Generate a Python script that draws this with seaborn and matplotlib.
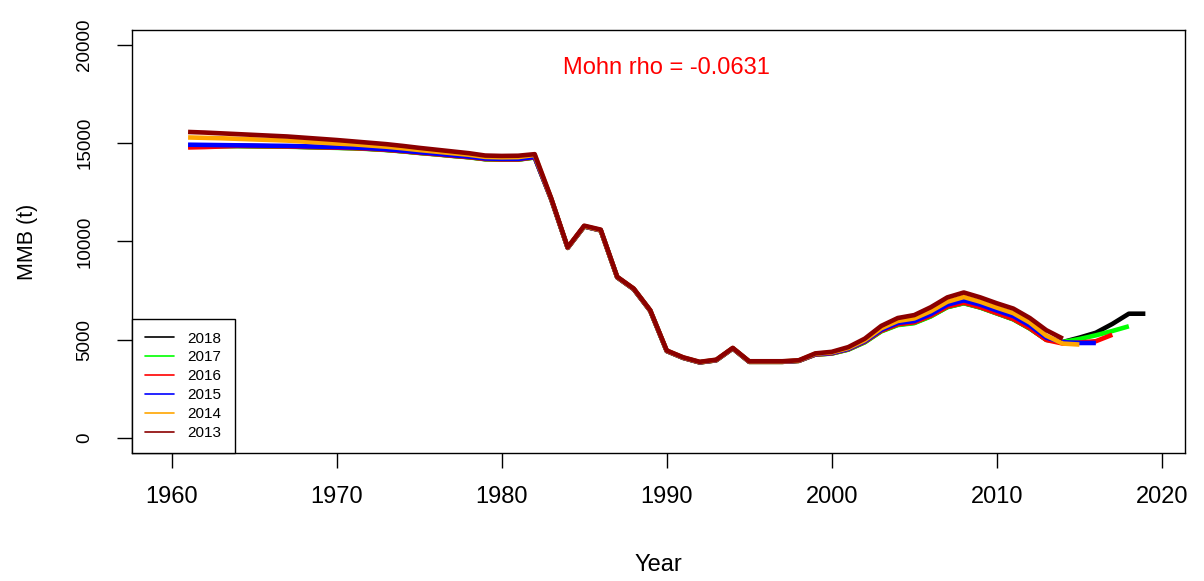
import matplotlib
matplotlib.use("Agg")
import matplotlib.pyplot as plt
from matplotlib.lines import Line2D
import numpy as np
import pandas as pd
import seaborn as sns

# Retrospective MMB runs, one per assessment (terminal year) ------------------
peel_labels = ["2018", "2017", "2016", "2015", "2014", "2013"]
peel_colors = ["#000000", "#00FF00", "#FF0000", "#0000FF", "#FFA500", "#8B0000"]

mmb_2018 = [14860, 14860, 14860, 14860, 14850, 14840, 14830, 14810, 14790, 14770,
            14750, 14710, 14660, 14590, 14510, 14440, 14360, 14290, 14190, 14170,
            14170, 14280, 12150, 9670, 10760, 10560, 8170, 7570, 6470, 4420,
            4070, 3840, 3950, 4550, 3870, 3870, 3870, 3920, 4240, 4300,
            4500, 4880, 5440, 5760, 5860, 6200, 6660, 6860, 6640, 6340,
            6040, 5570, 5000, 4880, 5100, 5350, 5800, 6320, 6320]
mmb_2017 = [14850, 14850, 14850, 14850, 14840, 14830, 14820, 14800, 14780, 14760,
            14740, 14700, 14650, 14580, 14500, 14430, 14350, 14280, 14180, 14160,
            14160, 14270, 12150, 9670, 10760, 10560, 8170, 7570, 6470, 4420,
            4070, 3840, 3950, 4550, 3870, 3870, 3870, 3920, 4240, 4290,
            4490, 4860, 5420, 5740, 5840, 6180, 6650, 6850, 6630, 6330,
            6030, 5560, 4990, 4880, 5030, 5220, 5440, 5680]
mmb_2016 = [14780, 14800, 14830, 14860, 14850, 14840, 14830, 14810, 14790, 14770,
            14750, 14710, 14660, 14590, 14510, 14440, 14360, 14290, 14190, 14170,
            14170, 14280, 12150, 9670, 10760, 10560, 8170, 7570, 6470, 4420,
            4070, 3840, 3950, 4550, 3870, 3870, 3870, 3920, 4240, 4300,
            4510, 4890, 5450, 5780, 5880, 6220, 6680, 6880, 6650, 6350,
            6050, 5580, 4980, 4800, 4850, 4920, 5250]
mmb_2015 = [14920, 14910, 14900, 14890, 14880, 14870, 14860, 14840, 14820, 14800,
            14780, 14740, 14690, 14620, 14540, 14470, 14390, 14320, 14220, 14200,
            14200, 14300, 12160, 9680, 10770, 10570, 8180, 7580, 6480, 4430,
            4080, 3850, 3960, 4560, 3880, 3880, 3880, 3930, 4260, 4320,
            4530, 4920, 5500, 5850, 5950, 6300, 6780, 7000, 6780, 6480,
            6200, 5720, 5100, 4870, 4830, 4830]
mmb_2014 = [15290, 15270, 15250, 15220, 15190, 15160, 15130, 15080, 15030, 14980,
            14940, 14880, 14820, 14740, 14650, 14570, 14490, 14410, 14300, 14280,
            14290, 14400, 12180, 9690, 10780, 10580, 8190, 7590, 6490, 4440,
            4090, 3860, 3970, 4570, 3890, 3890, 3890, 3940, 4280, 4350,
            4570, 4970, 5580, 5950, 6080, 6450, 6930, 7170, 6930, 6630,
            6350, 5870, 5200, 4800, 4750]
mmb_2013 = [15570, 15540, 15500, 15460, 15420, 15380, 15340, 15280, 15220, 15160,
            15090, 15020, 14950, 14860, 14760, 14670, 14580, 14490, 14370, 14350,
            14360, 14440, 12200, 9700, 10800, 10600, 8200, 7600, 6500, 4450,
            4100, 3870, 3980, 4580, 3900, 3900, 3900, 3950, 4300, 4380,
            4620, 5050, 5700, 6100, 6250, 6650, 7150, 7400, 7150, 6850,
            6580, 6100, 5480, 5050]

first_year = 1961
mohn_rho = -0.0631

series = [mmb_2018, mmb_2017, mmb_2016, mmb_2015, mmb_2014, mmb_2013]
frames = []
for lab, vals in zip(peel_labels, series):
    frames.append(pd.DataFrame({
        "Year": np.arange(first_year, first_year + len(vals)),
        "MMB": vals,
        "peel": lab,
    }))
df = pd.concat(frames, ignore_index=True)

sns.set_style("white")
plt.rcParams["font.family"] = ["Liberation Sans", "DejaVu Sans"]
for key in ("text.color", "axes.labelcolor", "xtick.color", "ytick.color",
            "axes.edgecolor"):
    plt.rcParams[key] = "black"

fig = plt.figure(figsize=(12.04, 5.81), dpi=100)
ax = fig.add_axes([0.1096, 0.2203, 0.8746, 0.7281])

palette = dict(zip(peel_labels, peel_colors))
sns.lineplot(data=df, x="Year", y="MMB", hue="peel", hue_order=peel_labels,
             palette=palette, linewidth=3.3, legend=False, ax=ax,
             solid_capstyle="butt", solid_joinstyle="round")

ax.set_xlim(1957.6, 2021.4)
ax.set_ylim(-770, 20760)
ax.set_xticks([1960, 1970, 1980, 1990, 2000, 2010, 2020])
ax.set_yticks([0, 5000, 10000, 15000, 20000])
ax.set_yticklabels(["0", "5000", "10000", "15000", "20000"],
                   rotation=90, va="center")

for s in ax.spines.values():
    s.set_visible(True)
    s.set_color("black")
    s.set_linewidth(1.0)

ax.tick_params(axis="both", direction="out", length=10.8, width=1.0,
               color="black", labelcolor="black", bottom=True, left=True)
ax.tick_params(axis="x", labelsize=17, pad=13)
ax.tick_params(axis="y", labelsize=13.5, pad=17)

ax.set_xlabel("Year", fontsize=17, color="black")
ax.set_ylabel("MMB (t)", fontsize=15.5, color="black")
ax.xaxis.set_label_coords(0.5, -0.265)
ax.xaxis.label.set_va("center")
ax.yaxis.set_label_coords(-0.099, 0.5)
ax.yaxis.label.set_va("center")

ax.text(1990, 18850, f"Mohn rho = {mohn_rho}", color="#FF0000",
        fontsize=17, ha="center", va="center")

handles = [Line2D([0], [0], color=c, lw=1.2) for c in peel_colors]
leg = ax.legend(handles, peel_labels, loc="lower left", bbox_to_anchor=(0, 0),
                borderaxespad=0, fontsize=11, frameon=True, fancybox=False,
                edgecolor="black", framealpha=1, handlelength=1.9,
                handletextpad=0.9, labelspacing=0.32, borderpad=0.85)
leg.get_frame().set_linewidth(1.0)
leg.get_frame().set_boxstyle("Square", pad=0)
for t in leg.get_texts():
    t.set_color("black")

fig.savefig("out.png", dpi=100)
